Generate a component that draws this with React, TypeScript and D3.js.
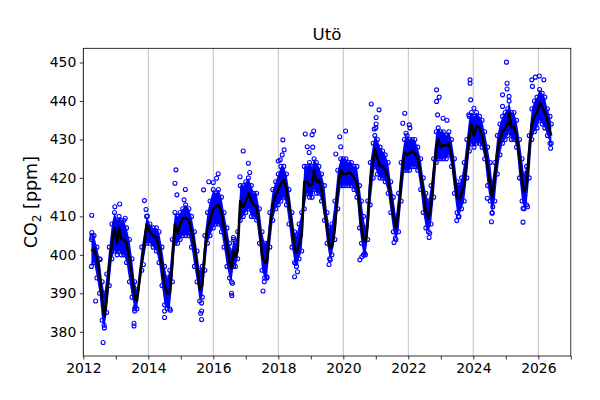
import { useEffect, useRef } from 'react';
import { select, scaleLinear, axisBottom, axisLeft, line, area } from 'd3';

// monthly-ish mean (black line) and the spread of the daily cloud around it
const lineYears = [
  2012.25, 2012.33, 2012.42, 2012.5, 2012.58, 2012.65, 2012.72, 2012.8, 2012.88, 2012.96,
  2013.04, 2013.1, 2013.17, 2013.25, 2013.33, 2013.42, 2013.5, 2013.58, 2013.65, 2013.8, 2013.95,
  2014.05, 2014.15, 2014.25, 2014.33, 2014.42, 2014.5, 2014.58, 2014.66, 2014.74, 2014.82, 2014.9, 2014.98,
  2015.06, 2015.15, 2015.25, 2015.33, 2015.42, 2015.5, 2015.58, 2015.66, 2015.74, 2015.82, 2015.9,
  2016.0, 2016.08, 2016.16, 2016.25, 2016.33, 2016.42, 2016.5, 2016.56, 2016.62, 2016.68, 2016.75, 2016.83, 2016.92,
  2017.0, 2017.08, 2017.17, 2017.25, 2017.33, 2017.42, 2017.5, 2017.58, 2017.65, 2017.74, 2017.83, 2017.92,
  2018.0, 2018.08, 2018.17, 2018.25, 2018.33, 2018.42, 2018.5, 2018.56, 2018.64, 2018.72, 2018.8, 2018.88, 2018.96,
  2019.04, 2019.1, 2019.17, 2019.25, 2019.33, 2019.42, 2019.5, 2019.58, 2019.65, 2019.74, 2019.83, 2019.92,
  2020.0, 2020.08, 2020.17, 2020.25, 2020.33, 2020.42, 2020.5, 2020.56, 2020.62, 2020.68, 2020.75, 2020.83, 2020.92, 2020.97,
  2021.05, 2021.13, 2021.21, 2021.29, 2021.38, 2021.46, 2021.54, 2021.62, 2021.7, 2021.78, 2021.88, 2021.96,
  2022.04, 2022.12, 2022.2, 2022.29, 2022.38, 2022.46, 2022.54, 2022.62, 2022.7, 2022.78, 2022.86, 2022.92,
  2023.0, 2023.08, 2023.17, 2023.25, 2023.33, 2023.42, 2023.5, 2023.56, 2023.64, 2023.72, 2023.8, 2023.88, 2023.94,
  2024.02, 2024.1, 2024.19, 2024.27, 2024.35, 2024.44, 2024.52, 2024.58, 2024.66, 2024.74, 2024.82, 2024.9, 2024.98,
  2025.06, 2025.1, 2025.17, 2025.25, 2025.33, 2025.42, 2025.5, 2025.56, 2025.64, 2025.72, 2025.8, 2025.88, 2025.96,
  2026.04, 2026.12, 2026.2, 2026.28, 2026.36, 2026.4,
];
const lineCo2 = [
  401, 401.5, 399, 395, 388, 384, 389, 397, 403, 407,
  403, 407, 404, 404, 403, 399, 394, 389, 388, 398, 408,
  406, 405, 404.5, 402, 397, 392, 390, 390, 398, 408, 405.5, 408,
  409.5, 409.5, 409, 406, 402, 397, 391, 392, 401, 407, 409,
  412, 412.5, 413, 411, 407, 402, 398, 396.5, 401, 399.5, 401, 414, 412.5,
  414, 416, 414, 413, 412.5, 407, 400, 398, 398, 407, 413, 415.5,
  417, 418.5, 419.5, 417, 413, 407, 402, 400.5, 403, 405, 419, 419, 418,
  418.5, 422, 419, 419.5, 417, 412, 407, 402, 402, 407, 417, 422,
  421, 421, 421.5, 421, 420, 419, 412, 407, 404, 403.5, 408, 419, 425, 427.5,
  425, 423, 423, 422, 420, 415, 410, 407, 411, 419, 426.5, 426,
  426.5, 427, 426.5, 425, 421, 416, 411, 409.5, 413, 421, 428, 430,
  428, 428.5, 428.5, 429, 426, 420, 415, 414.5, 416, 418, 425, 431, 434,
  431, 433.5, 433, 431, 428, 423, 418, 415, 420, 427, 430, 432, 433,
  434, 437, 433, 433.5, 431, 425, 419, 416.5, 418, 427, 434, 436, 437,
  439.5, 438.5, 437, 435, 432, 431,
];
const bandLo = [
  397, 398, 394, 390, 383, 381, 385, 392, 399, 401,
  400, 401, 400, 400, 398, 393, 389, 386, 386, 396, 403,
  403, 402, 401, 398, 392, 387, 386, 386, 393, 403, 403, 404,
  405, 405, 405, 402, 397, 393, 388, 389, 396, 403, 405,
  407, 408, 408, 406, 402, 397, 394, 393, 397, 397, 399, 409, 410,
  411, 412, 410, 410, 409, 403, 396, 394, 394, 402, 409, 412,
  413, 414, 415, 413, 408, 402, 398, 397, 399, 401, 412, 416, 415,
  415, 417, 416, 416, 414, 409, 403, 399, 400, 404, 412, 418,
  418, 418, 418, 418, 417, 415, 407, 403, 400, 400, 404, 413, 420, 423,
  421, 420, 420, 419, 416, 411, 406, 404, 406, 414, 422, 422,
  422, 423, 423, 422, 417, 411, 407, 406, 408, 415, 424, 425,
  425, 425, 425, 426, 423, 416, 411, 410, 412, 414, 420, 427, 429,
  428, 429, 429, 428, 425, 418, 414, 411, 414, 421, 426, 429, 430,
  431, 432, 430, 430, 428, 420, 414, 412, 413, 420, 430, 432, 433,
  435, 434, 433, 431, 429, 429,
];
const bandHi = [
  404, 405, 402, 399, 393, 390, 395, 402, 408, 411,
  409, 410, 409, 409, 407, 404, 399, 393, 391, 402, 410,
  408, 407, 407, 406, 402, 397, 394, 396, 404, 411, 410, 411,
  412, 413, 412, 410, 406, 401, 396, 397, 405, 411, 414,
  417, 416, 417, 415, 411, 407, 403, 401, 404, 403, 406, 418, 418,
  419, 420, 418, 416, 416, 412, 406, 403, 403, 411, 417, 419,
  421, 423, 423, 421, 417, 411, 406, 405, 408, 411, 423, 423, 424,
  423, 425, 424, 423, 421, 418, 411, 407, 408, 414, 422, 425,
  425, 425, 424, 424, 423, 423, 418, 414, 410, 407, 414, 424, 429, 431,
  430, 428, 427, 426, 424, 419, 415, 410, 416, 424, 430, 431,
  430, 430, 430, 428, 425, 420, 416, 414, 418, 425, 432, 433,
  432, 432, 431, 432, 430, 425, 419, 418, 420, 424, 430, 436, 437,
  436, 437, 436, 435, 432, 428, 424, 419, 424, 431, 434, 436, 437,
  438, 440, 437, 437, 435, 430, 425, 421, 423, 431, 438, 440, 441,
  443, 442, 441, 438, 436, 434,
];

// isolated daily values outside the dense cloud
const outlierYears = [
  2012.26, 2012.26, 2012.27, 2012.27, 2012.38, 2012.52, 2012.61, 2012.64, 2012.97, 2013.12, 2013.29,
  2013.52, 2013.56, 2013.56, 2013.58, 2013.6, 2013.85, 2013.88, 2013.93, 2013.97,
  2014.5, 2014.5, 2014.68, 2014.82, 2014.85, 2014.88, 2015.1, 2015.14,
  2015.61, 2015.64, 2015.64, 2015.64, 2015.7, 2015.86, 2016.0, 2016.1, 2016.15,
  2016.56, 2016.57, 2016.59, 2016.62, 2016.82, 2016.92, 2017.08, 2017.12,
  2017.53, 2017.57, 2017.65, 2018.0, 2018.06, 2018.12, 2018.14, 2018.18,
  2018.5, 2018.54, 2018.59, 2018.83, 2018.89, 2018.95, 2019.04, 2019.06, 2019.09,
  2019.56, 2019.6, 2019.77, 2019.89, 2019.92, 2020.07,
  2020.51, 2020.57, 2020.66, 2020.86, 2020.95, 2021.0, 2021.01, 2021.01, 2021.1,
  2021.56, 2021.6, 2021.83, 2021.89, 2021.93, 2022.03, 2022.05,
  2022.64, 2022.66, 2022.87, 2022.87, 2022.9, 2022.95, 2023.07, 2023.19,
  2023.49, 2023.54, 2023.86, 2023.9, 2023.9, 2023.92, 2024.02,
  2024.43, 2024.56, 2024.58, 2024.6, 2024.9, 2024.9, 2025.02, 2025.04, 2025.04, 2025.1,
  2025.53, 2025.53, 2025.67, 2025.8, 2025.82, 2025.91, 2026.03, 2026.17, 2026.38,
];
const outlierCo2 = [
  410.3, 405.8, 405, 404.5, 388, 398.8, 377.2, 381.7, 412.5, 413.2, 409.5,
  392.6, 382.2, 381.5, 385.4, 386.5, 397.5, 414.1, 411.8, 410.1,
  383.7, 385.4, 385.6, 418.6, 422.1, 415.6, 414.3, 417,
  384.8, 387.5, 385.4, 383.2, 416.9, 419, 418.8, 419.9, 421.1,
  390, 389.4, 392.6, 404.5, 420.3, 427, 423.8, 421.4,
  390.6, 393, 394.3, 424.4, 424.7, 426, 429.9, 427.3,
  394.3, 397.8, 395.6, 431.4, 428.1, 426.6, 431.2, 428, 432.2,
  397.5, 398.7, 426.2, 430.7, 428.1, 432.2,
  398.7, 399.5, 400.4, 439.2, 432.7, 433, 435.7, 434, 437.7,
  403.2, 404.3, 434.2, 436.8, 431.6, 433.8, 433,
  404.5, 405.6, 442.9, 439.9, 436.4, 441, 435.5, 435,
  408.9, 409.9, 436.4, 445.5, 444.6, 440.3, 438.1,
  414.7, 408.6, 410.8, 412.5, 441.6, 438.6, 450.1, 444.6, 443.1, 441.2,
  408.5, 412.1, 412.5, 445.5, 443.8, 446.2, 446.5, 445.5, 427.7,
];

const yearTicks = [2012, 2013, 2014, 2015, 2016, 2017, 2018, 2019, 2020, 2021, 2022, 2023, 2024, 2025, 2026, 2027];
const labelYears = [2012, 2014, 2016, 2018, 2020, 2022, 2024, 2026];
const co2Ticks = [380, 390, 400, 410, 420, 430, 440, 450];

const font = 'DejaVu Sans, sans-serif';

export default function App() {
  const svgRef = useRef<SVGSVGElement | null>(null);

  useEffect(() => {
    document.body.style.margin = '0';
    if (!svgRef.current) return;
    const svg = select(svgRef.current);
    svg.selectAll('*').remove();

    const width = 600;
    const height = 400;
    const margin = { top: 48.3, right: 29.2, bottom: 44, left: 83.3 };

    const x = scaleLinear()
      .domain([2012, 2027])
      .range([margin.left, width - margin.right]);
    const y = scaleLinear()
      .domain([373.7, 453.7])
      .range([height - margin.bottom, margin.top]);

    svg.attr('viewBox', `0 0 ${width} ${height}`);
    svg.append('rect').attr('width', width).attr('height', height).attr('fill', '#fff');

    const clipId = 'plot-clip';
    svg
      .append('clipPath')
      .attr('id', clipId)
      .append('rect')
      .attr('x', margin.left)
      .attr('y', margin.top)
      .attr('width', width - margin.left - margin.right)
      .attr('height', height - margin.top - margin.bottom);

    // vertical grid on the labelled years
    svg
      .append('g')
      .selectAll('line')
      .data(labelYears)
      .join('line')
      .attr('x1', (d) => x(d))
      .attr('x2', (d) => x(d))
      .attr('y1', margin.top)
      .attr('y2', height - margin.bottom)
      .attr('stroke', '#b0b0b0')
      .attr('stroke-width', 0.8);

    const plot = svg.append('g').attr('clip-path', `url(#${clipId})`);
    const idx = lineYears.map((_, i) => i);

    const band = area<number>()
      .x((i) => x(lineYears[i]))
      .y0((i) => y(bandLo[i]))
      .y1((i) => y(bandHi[i]));
    plot.append('path').attr('d', band(idx)).attr('fill', '#0000ff');

    const dots = [
      ...idx.map((i) => [lineYears[i], bandLo[i]]),
      ...idx.map((i) => [lineYears[i], bandHi[i]]),
      ...outlierYears.map((t, i) => [t, outlierCo2[i]]),
    ];
    plot
      .append('g')
      .selectAll('circle')
      .data(dots)
      .join('circle')
      .attr('cx', (d) => x(d[0]))
      .attr('cy', (d) => y(d[1]))
      .attr('r', 2)
      .attr('fill', 'none')
      .attr('stroke', '#0000ff')
      .attr('stroke-width', 1.1);

    const mean = line<number>()
      .x((i) => x(lineYears[i]))
      .y((i) => y(lineCo2[i]));
    plot
      .append('path')
      .attr('d', mean(idx))
      .attr('fill', 'none')
      .attr('stroke', '#000')
      .attr('stroke-width', 2.6)
      .attr('stroke-linejoin', 'round');

    const xAxis = svg
      .append('g')
      .attr('transform', `translate(0, ${height - margin.bottom})`)
      .call(
        axisBottom(x)
          .tickValues(yearTicks)
          .tickSize(3.5)
          .tickPadding(3.5)
          .tickFormat((v) => (labelYears.includes(+v) ? String(v) : ''))
      );
    const yAxis = svg
      .append('g')
      .attr('transform', `translate(${margin.left},0)`)
      .call(axisLeft(y).tickValues(co2Ticks).tickSize(3.5).tickPadding(3.5));

    [xAxis, yAxis].forEach((a) => {
      a.select('.domain').remove();
      a.selectAll('line').attr('stroke', '#000').attr('stroke-width', 0.8);
      a.selectAll('text').attr('fill', '#000').style('font-family', font).style('font-size', '13.9px');
    });

    svg
      .append('rect')
      .attr('x', margin.left)
      .attr('y', margin.top)
      .attr('width', width - margin.left - margin.right)
      .attr('height', height - margin.top - margin.bottom)
      .attr('fill', 'none')
      .attr('stroke', '#000')
      .attr('stroke-width', 0.8);

    svg
      .append('text')
      .attr('x', (margin.left + width - margin.right) / 2)
      .attr('y', 40)
      .attr('text-anchor', 'middle')
      .style('font-family', font)
      .style('font-size', '16.7px')
      .text('Utö');

    const yl = svg
      .append('text')
      .attr('transform', `translate(37, ${(margin.top + height - margin.bottom) / 2}) rotate(-90)`)
      .attr('text-anchor', 'middle')
      .style('font-family', font)
      .style('font-size', '17.5px');
    yl.append('tspan').text('CO');
    yl.append('tspan').attr('font-size', '12.2px').attr('dy', 3.8).text('2');
    yl.append('tspan').attr('dy', -3.8).text(' [ppm]');
  }, []);

  return <svg ref={svgRef} width={600} height={400} style={{ display: 'block' }} />;
}
